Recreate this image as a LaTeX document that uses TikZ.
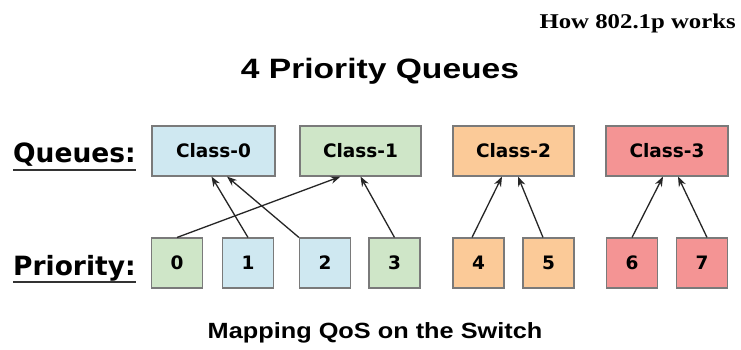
\documentclass[tikz,border=0pt]{standalone}
\usepackage{fontspec}
\setmainfont{Liberation Sans}
\newfontfamily\verd{DejaVu Sans}
\newfontfamily\tms{Liberation Serif}
\usetikzlibrary{arrows.meta,calc}
\definecolor{qblue}{HTML}{CFE8F1}
\definecolor{qgreen}{HTML}{CFE6C8}
\definecolor{qorange}{HTML}{FBCA98}
\definecolor{qred}{HTML}{F49494}
\definecolor{qborder}{HTML}{7A7A7A}
\tikzset{
  cls/.style={draw=qborder, line width=1.1pt, minimum height=50pt, inner sep=0pt,
    font=\verd\bfseries\fontsize{18.5}{20}\selectfont},
  pri/.style={draw=qborder, line width=1.1pt, minimum height=50pt, minimum width=51pt, inner sep=0pt,
    font=\verd\bfseries\fontsize{18.5}{20}\selectfont},
  lbl/.style={font=\verd\bfseries\fontsize{26.5}{28}\selectfont, inner sep=0pt, anchor=base west},
  arr/.style={-{Stealth[length=10pt,width=7.5pt]}, line width=1.3pt, draw=black!85},
}
\begin{document}
\begin{tikzpicture}[x=1pt,y=-1pt]
\useasboundingbox[fill=white] (0,0) rectangle (741,349);
% header texts
\node[anchor=base east, inner sep=0pt, font=\tms\bfseries\fontsize{21}{24}\selectfont, xscale=1.18] (how) at (736,28) {How 802.1p works};
\node[anchor=base, inner sep=0pt, font=\bfseries\fontsize{28}{30}\selectfont, xscale=1.2] (title) at (380,78) {4 Priority Queues};
\node[anchor=base, inner sep=0pt, font=\bfseries\fontsize{22}{24}\selectfont, xscale=1.15] (cap) at (375,338) {Mapping QoS on the Switch};
% row labels
\node[lbl] (ql) at (13,162) {Queues:};
\node[lbl] (pl) at (13,275) {Priority:};
\draw[line width=1.1pt, black!80] ($(ql.base west)+(0,8)$) coordinate (qu1) -- ($(ql.base east)+(0,8)$) coordinate (qu2);
\draw[line width=1.1pt, black!80] ($(pl.base west)+(0,7)$) coordinate (pu1) -- ($(pl.base east)+(0,7)$) coordinate (pu2);
% class boxes
\node[cls, fill=qblue,   minimum width=123pt] (c0) at (213.5,151) {Class-0};
\node[cls, fill=qgreen,  minimum width=121pt] (c1) at (360.5,151) {Class-1};
\node[cls, fill=qorange, minimum width=121pt] (c2) at (513.5,151) {Class-2};
\node[cls, fill=qred,    minimum width=122pt] (c3) at (667,151)   {Class-3};
% priority boxes
\node[pri, fill=qgreen]  (p0) at (177,263)   {0};
\node[pri, fill=qblue]   (p1) at (248,263)   {1};
\node[pri, fill=qblue]   (p2) at (325,263)   {2};
\node[pri, fill=qgreen]  (p3) at (394.5,263) {3};
\node[pri, fill=qorange] (p4) at (478.5,263) {4};
\node[pri, fill=qorange] (p5) at (548.5,263) {5};
\node[pri, fill=qred]    (p6) at (632,263)   {6};
\node[pri, fill=qred]    (p7) at (702,263)   {7};
% arrows
\draw[arr] (p0.north) -- ([xshift=-20pt]c1.south);
\draw[arr] (p1.north) -- ([xshift=-2pt]c0.south);
\draw[arr] (p2.north west) -- ([xshift=13.5pt]c0.south);
\draw[arr] (p3.north) -- (c1.south);
\draw[arr] ([xshift=-6.5pt]p4.north) -- ([xshift=-11.5pt]c2.south);
\draw[arr] ([xshift=-5.5pt]p5.north) -- ([xshift=4.5pt]c2.south);
\draw[arr] (p6.north) -- ([xshift=-4pt]c3.south);
\draw[arr] ([xshift=5pt]p7.north) -- ([xshift=11pt]c3.south);
\end{tikzpicture}
\end{document}
